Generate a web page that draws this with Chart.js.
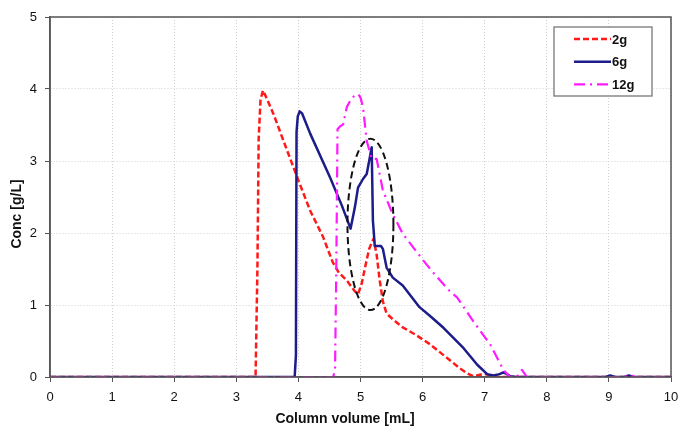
<!DOCTYPE html>
<html lang="en">
<head>
  <meta charset="UTF-8" />
  <title>Column elution profiles</title>
  <script src="https://cdn.jsdelivr.net/npm/chart.js"></script>
  <style>
    * { margin: 0; padding: 0; box-sizing: border-box; }
    body { background: #ffffff; width: 679px; height: 427px; overflow: hidden; }
    canvas { display: block; }
  </style>
</head>
<body>
  <canvas id="elution" width="679" height="427"></canvas>

  <script>
    // elution curves, column volume [mL] vs concentration [g/L]
    const vol2g = [0, 3.31, 3.34, 3.36, 3.39, 3.43, 3.50, 3.60, 3.76, 4.00, 4.19, 4.40, 4.55, 4.65, 4.78, 4.90, 4.96, 5.02, 5.08, 5.14, 5.21, 5.26, 5.31, 5.36, 5.42, 5.55, 5.68, 5.90, 6.11, 6.43, 6.60, 6.72, 6.82, 6.92, 7.02, 7.12, 7.25, 10];
    const conc2g = [0, 0, 1.5, 3.3, 3.85, 3.98, 3.85, 3.65, 3.28, 2.73, 2.31, 1.94, 1.60, 1.45, 1.34, 1.20, 1.15, 1.30, 1.55, 1.78, 1.92, 1.70, 1.34, 1.05, 0.88, 0.78, 0.69, 0.58, 0.46, 0.24, 0.12, 0.05, 0.01, 0.03, 0.04, 0.01, 0, 0];

    const vol6g = [0, 3.94, 3.96, 3.97, 3.99, 4.02, 4.06, 4.19, 4.51, 4.70, 4.84, 4.91, 4.96, 5.04, 5.10, 5.15, 5.18, 5.20, 5.23, 5.33, 5.36, 5.42, 5.52, 5.68, 5.95, 6.13, 6.34, 6.66, 6.88, 7.04, 7.14, 7.24, 7.30, 7.36, 7.41, 7.50, 8.95, 9.02, 9.10, 9.25, 9.32, 9.40, 10];
    const conc6g = [0, 0, 0.3, 3.4, 3.62, 3.69, 3.66, 3.38, 2.77, 2.38, 2.06, 2.36, 2.63, 2.75, 2.82, 3.05, 3.19, 2.17, 1.82, 1.82, 1.78, 1.52, 1.38, 1.27, 0.97, 0.84, 0.68, 0.40, 0.17, 0.04, 0.02, 0.04, 0.065, 0.04, 0.01, 0, 0, 0.02, 0, 0, 0.02, 0, 0];

    const vol12g = [0, 4.56, 4.59, 4.61, 4.63, 4.67, 4.72, 4.78, 4.86, 4.96, 5.00, 5.04, 5.10, 5.18, 5.26, 5.36, 5.52, 5.68, 6.01, 6.18, 6.43, 6.56, 6.82, 7.09, 7.30, 7.41, 7.52, 7.60, 7.68, 9.25, 9.34, 9.42, 10];
    const conc12g = [0, 0, 0.1, 1.5, 3.44, 3.48, 3.51, 3.75, 3.88, 3.93, 3.88, 3.75, 3.28, 3.03, 3.03, 2.59, 2.26, 1.99, 1.62, 1.44, 1.20, 1.10, 0.77, 0.45, 0.10, 0, 0, 0.10, 0, 0, 0.03, 0, 0];

    const seriesNames = ['2g', '6g', '12g'];
    const xTicks = [0, 1, 2, 3, 4, 5, 6, 7, 8, 9, 10];
    const yTicks = [0, 1, 2, 3, 4, 5];
    const xTitle = 'Column volume [mL]';
    const yTitle = 'Conc [g/L]';

    // dashed ring around the second peak: centre and half-axes in data units
    const ringCentre = [5.16, 2.12];
    const ringRadii = [0.37, 1.19];

    const pairs = (xs, ys) => xs.map((x, i) => ({ x: x, y: ys[i] }));
    const FONT = "'Liberation Sans', Arial, sans-serif";

    const ringPlugin = {
      id: 'ring',
      afterDatasetsDraw(chart) {
        const { ctx, scales: { x, y } } = chart;
        const cx = x.getPixelForValue(ringCentre[0]);
        const cy = y.getPixelForValue(ringCentre[1]);
        const rx = Math.abs(x.getPixelForValue(ringCentre[0] + ringRadii[0]) - cx);
        const ry = Math.abs(y.getPixelForValue(ringCentre[1] + ringRadii[1]) - cy);
        ctx.save();
        ctx.beginPath();
        ctx.ellipse(cx, cy, rx, ry, 0, 0, Math.PI * 2);
        ctx.setLineDash([7, 4]);
        ctx.lineWidth = 2;
        ctx.strokeStyle = '#111';
        ctx.stroke();
        ctx.restore();
      }
    };

    // plot frame, axis titles (sit a little off-centre) and the boxed legend
    const framePlugin = {
      id: 'frame',
      afterDraw(chart) {
        const { ctx, chartArea: a } = chart;
        ctx.save();
        ctx.strokeStyle = '#555';
        ctx.lineWidth = 1.5;
        ctx.strokeRect(a.left, a.top, a.right - a.left, a.bottom - a.top);

        ctx.fillStyle = '#111';
        ctx.font = 'bold 14px ' + FONT;
        ctx.textAlign = 'center';
        ctx.textBaseline = 'middle';
        ctx.fillText(xTitle, a.left + 295, 419);
        ctx.save();
        ctx.translate(17, a.top + 197);
        ctx.rotate(-Math.PI / 2);
        ctx.fillText(yTitle, 0, 0);
        ctx.restore();

        const bx = a.right - 117, by = a.top + 10, bw = 98, bh = 69;
        ctx.fillStyle = '#fff';
        ctx.fillRect(bx, by, bw, bh);
        ctx.strokeStyle = '#777';
        ctx.lineWidth = 1.3;
        ctx.strokeRect(bx, by, bw, bh);

        ctx.font = 'bold 13px ' + FONT;
        ctx.textAlign = 'left';
        chart.data.datasets.forEach((ds, i) => {
          const ly = by + 12 + i * 22.7;
          ctx.beginPath();
          ctx.setLineDash(ds.borderDash || []);
          ctx.strokeStyle = ds.borderColor;
          ctx.lineWidth = ds.borderWidth;
          ctx.moveTo(bx + 20, ly);
          ctx.lineTo(bx + 57, ly);
          ctx.stroke();
          ctx.setLineDash([]);
          ctx.fillStyle = '#111';
          ctx.fillText(ds.label, bx + 58, ly + 1);
        });
        ctx.restore();
      }
    };

    new Chart(document.getElementById('elution'), {
      type: 'line',
      data: {
        datasets: [
          { label: seriesNames[0], data: pairs(vol2g, conc2g), borderColor: '#ff1a1a', borderWidth: 2.5, borderDash: [6, 3], order: 3 },
          { label: seriesNames[1], data: pairs(vol6g, conc6g), borderColor: '#1c1c8a', borderWidth: 2.5, order: 2 },
          { label: seriesNames[2], data: pairs(vol12g, conc12g), borderColor: '#ff1aff', borderWidth: 2.2, borderDash: [11, 5, 2, 5], order: 1 }
        ]
      },
      options: {
        responsive: false,
        animation: false,
        parsing: false,
        elements: { point: { radius: 0 }, line: { tension: 0, borderJoinStyle: 'round' } },
        layout: { padding: { left: 0, right: 8, top: 17, bottom: 0 } },
        plugins: { legend: { display: false }, tooltip: { enabled: false } },
        scales: {
          x: {
            type: 'linear',
            min: 0, max: 10,
            afterBuildTicks: s => { s.ticks = xTicks.map(v => ({ value: v })); },
            afterFit: s => { s.height = 50; s.paddingLeft = 0; s.paddingRight = 0; },
            ticks: { color: '#111', font: { family: FONT, size: 13 }, padding: 8, maxRotation: 0 },
            grid: { color: '#d0d0d0', tickColor: '#555', tickLength: 5 },
            border: { color: '#555', width: 1.5, dash: [1, 2] }
          },
          y: {
            min: 0, max: 5,
            afterBuildTicks: s => { s.ticks = yTicks.map(v => ({ value: v })); },
            afterFit: s => { s.width = 50; },
            ticks: { color: '#111', font: { family: FONT, size: 13 }, padding: 8 },
            grid: { color: '#d0d0d0', tickColor: '#555', tickLength: 5 },
            border: { color: '#555', width: 1.5, dash: [1, 2] }
          }
        }
      },
      plugins: [ringPlugin, framePlugin]
    });
  </script>
</body>
</html>
